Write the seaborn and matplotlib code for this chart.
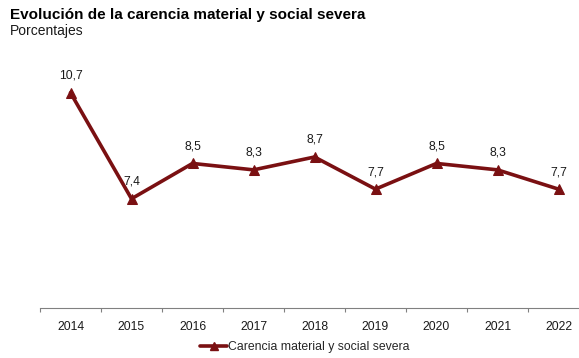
import matplotlib
matplotlib.use("Agg")
import matplotlib.pyplot as plt
import seaborn as sns
import pandas as pd
from matplotlib.lines import Line2D

years = ["2014", "2015", "2016", "2017", "2018", "2019", "2020", "2021", "2022"]
values = [10.7, 7.4, 8.5, 8.3, 8.7, 7.7, 8.5, 8.3, 7.7]
series_name = "Carencia material y social severa"

sns.set_theme(style="white")
plt.rcParams['font.family'] = ['Liberation Sans', 'DejaVu Sans']

W, H = 579, 358
fig = plt.figure(figsize=(W/100, H/100), dpi=100)
ax = fig.add_axes([40/W, 50/H, 549/W, 257/H])

df = pd.DataFrame({"year": years, "value": values, "idx": range(len(years))})
color = "#7a1012"
sns.lineplot(data=df, x="idx", y="value", ax=ax, color=color, linewidth=2.6,
             marker="^", markersize=7, markeredgecolor=color, markerfacecolor=color)

for i, v in zip(df["idx"], df["value"]):
    ax.annotate(f"{v:.1f}".replace(".", ","), (i, v), xytext=(0, 8), textcoords="offset points",
                ha="center", va="bottom", fontsize=8.7, color="#1a1a1a")

ax.set_xlim(-0.5, len(years) - 0.5)
ax.set_ylim(4, 12)
ax.set_xticks(range(len(years)))
ax.set_xticklabels(years, fontsize=8.7, color="#1a1a1a")
ax.set_xticks([i - 0.5 for i in range(len(years) + 1)], minor=True)
ax.tick_params(axis="x", which="major", length=0, pad=9)
ax.tick_params(axis="x", which="minor", length=3, width=0.8, color="#808080", bottom=True)
ax.set_yticks([])
ax.set_xlabel("")
ax.set_ylabel("")
for s in ["top", "right", "left"]:
    ax.spines[s].set_visible(False)
ax.spines["bottom"].set_color("#808080")
ax.spines["bottom"].set_linewidth(0.8)
ax.grid(False)

fig.text(10/W, 1 - 15/H, "Evolución de la carencia material y social severa", fontsize=11,
         fontweight="bold", va="center", ha="left", color="#000000")
fig.text(10/W, 1 - 31/H, "Porcentajes", fontsize=10, va="center", ha="left", color="#1a1a1a")

handle = Line2D([0], [0], color=color, linewidth=2.6, marker="^", markersize=6,
                markerfacecolor=color, markeredgecolor=color)
fig.legend([handle], [series_name], loc="center", bbox_to_anchor=(305/W, 1 - 347/H),
           frameon=False, fontsize=8.8, handlelength=2.2, handletextpad=0.1)

fig.savefig("out.png", dpi=100)
